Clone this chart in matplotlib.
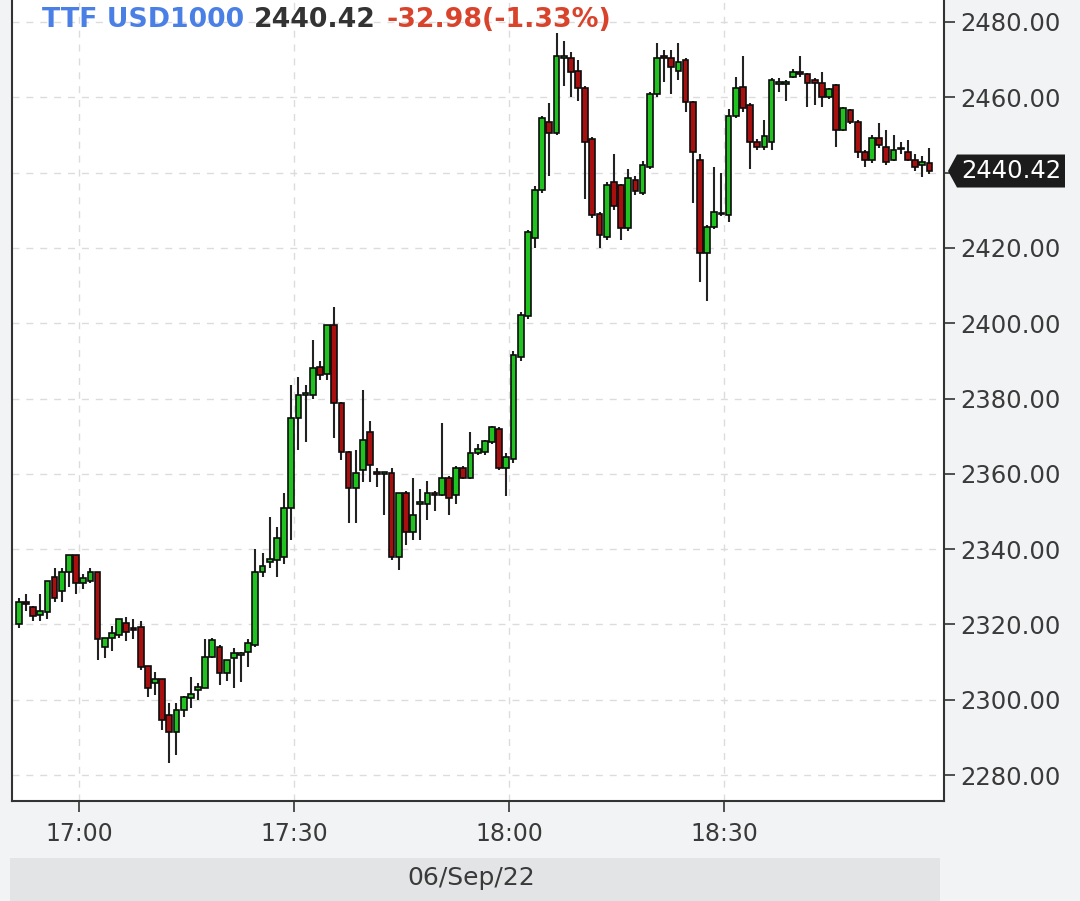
import matplotlib
matplotlib.use("Agg")
import matplotlib.pyplot as plt
import matplotlib.transforms as mtransforms
from matplotlib.patches import Polygon, Rectangle
import numpy as np
import pandas as pd

# ---------------- data ----------------
session_date = "2022-09-06"
start_time = "16:51"

opens = [2320, 2326, 2324.5, 2322.5, 2323.3, 2332.6, 2329, 2334, 2338.5, 2331,
         2331.5, 2334, 2314, 2316.4, 2317.3, 2320.5, 2319, 2319.3, 2309, 2304.5,
         2305.5, 2296, 2291.4, 2297.3, 2300.5, 2302.5, 2303, 2311.3, 2314, 2307,
         2311, 2312, 2312.7, 2314.5, 2334, 2336.5, 2337, 2338, 2351, 2374.8,
         2381, 2381, 2388.5, 2386.5, 2399.5, 2378.8, 2365.8, 2356.2, 2361, 2371,
         2360.5, 2360, 2360.2, 2338, 2355, 2344.5, 2352, 2352, 2355, 2354.5,
         2359, 2354.5, 2361.5, 2359, 2365.5, 2365.8, 2368.4, 2372, 2361.5, 2364,
         2391, 2402, 2422.6, 2435.4, 2453.4, 2450.5, 2470.5, 2470.5, 2467, 2462.5,
         2449, 2429, 2423, 2437.5, 2436.7, 2425.3, 2438, 2434.6, 2441.5, 2461,
         2471, 2470.4, 2467, 2470, 2458.8, 2443.3, 2418.6, 2425.5, 2429, 2428.7,
         2455, 2462.7, 2458, 2448, 2446.8, 2448, 2463.8, 2463.8, 2465.4, 2466.5,
         2466.2, 2464.6, 2463.8, 2460, 2463.3, 2451.3, 2456.6, 2453.4, 2445.5, 2443.4,
         2449.2, 2446.8, 2443.4, 2446.2, 2445.5, 2443.4, 2442, 2442.5]
highs = [2327, 2328, 2325, 2328, 2331.5, 2335, 2335, 2338.5, 2338.5, 2333.5,
         2335, 2334, 2316.4, 2319.5, 2321.5, 2322, 2321.5, 2321, 2309, 2307.4,
         2305.5, 2299, 2299, 2301, 2306, 2304.5, 2316, 2316.5, 2314.5, 2310.5,
         2313.8, 2312.8, 2316, 2340, 2339, 2348.5, 2346, 2355, 2383.6, 2385.7,
         2383.6, 2395.5, 2390, 2399.5, 2404.3, 2379, 2366, 2366.3, 2382.3, 2374,
         2361.5, 2360.5, 2361.5, 2355, 2355.5, 2359, 2356, 2358, 2355.5, 2373.5,
         2359.5, 2362, 2362, 2371, 2368, 2369, 2372.8, 2372.5, 2365.5, 2392.5,
         2403, 2424.8, 2436.5, 2455, 2458.5, 2477, 2475, 2472, 2470, 2463,
         2449.5, 2429.5, 2437.5, 2445, 2437, 2441, 2439, 2443, 2461.5, 2474.4,
         2472.5, 2472.5, 2474.4, 2470.4, 2459, 2445, 2426, 2441.5, 2440, 2457,
         2465.5, 2471, 2458.5, 2449, 2454, 2465, 2465, 2464.5, 2467.5, 2471,
         2466.5, 2465, 2466.6, 2462.5, 2463.5, 2457.5, 2457, 2454, 2446, 2450,
         2453.2, 2451.3, 2450, 2448, 2448.6, 2445, 2444.5, 2446.5]
lows = [2319, 2323.5, 2321, 2321, 2321.5, 2326, 2326, 2330, 2328, 2329.5,
        2331, 2310.5, 2311, 2313, 2316.5, 2315.5, 2316, 2308, 2300.7, 2301.2,
        2292, 2283.2, 2285.3, 2295.5, 2297.7, 2300, 2303, 2311, 2304, 2305,
        2303, 2304.6, 2308.7, 2314, 2332.6, 2335, 2332.5, 2336, 2342.4, 2366.3,
        2368.4, 2380, 2385, 2385, 2369.5, 2363.7, 2347, 2346.9, 2357.8, 2357.8,
        2356.5, 2349, 2337, 2334.5, 2341, 2342.4, 2342.4, 2347.7, 2350, 2354,
        2349, 2352, 2358.5, 2358.5, 2365, 2365, 2368, 2361, 2354, 2363,
        2390, 2401, 2420, 2434.5, 2439, 2450, 2463, 2460, 2459, 2433,
        2428, 2420, 2422, 2430, 2422, 2424.5, 2434, 2434, 2441, 2460,
        2464, 2461, 2464.6, 2456, 2432, 2411, 2406, 2425, 2428.5, 2427,
        2454.5, 2456, 2441, 2446, 2446, 2446, 2461.5, 2459, 2465, 2465.5,
        2457.4, 2458, 2457.4, 2459.5, 2446.8, 2451, 2453, 2444, 2441.5, 2442.5,
        2446.5, 2442, 2443, 2445, 2443, 2440.5, 2438.8, 2439.5]
closes = [2326, 2325.5, 2322.3, 2323.5, 2331.5, 2327, 2334, 2338.5, 2331, 2332.4,
          2334, 2316, 2316.4, 2317.7, 2321.5, 2317.9, 2318.5, 2308.7, 2303, 2305.5,
          2294.6, 2291.4, 2297.3, 2300.7, 2301.5, 2303.5, 2311.3, 2315.9, 2307, 2310.5,
          2312.5, 2312.5, 2315, 2334, 2335.5, 2337.5, 2343, 2351, 2374.8, 2381,
          2381.3, 2388, 2386.3, 2399.5, 2378.8, 2365.8, 2356.2, 2360.2, 2369, 2362.3,
          2360, 2360.3, 2338, 2355, 2344.5, 2349, 2352.5, 2355, 2354.5, 2359,
          2353.6, 2361.5, 2359, 2365.5, 2366.5, 2368.7, 2372.4, 2361.5, 2364.5, 2391.6,
          2402.2, 2424.2, 2435.4, 2454.5, 2450.5, 2471, 2470.8, 2466.7, 2462.5, 2448,
          2428.7, 2423.4, 2436.7, 2431, 2425.3, 2438.6, 2435, 2442, 2461, 2470.4,
          2470.5, 2468, 2469.4, 2458.8, 2445.5, 2418.6, 2425.5, 2429.5, 2429.3, 2455,
          2462.5, 2457.2, 2448, 2446.8, 2449.7, 2464.6, 2464, 2464, 2466.7, 2466.3,
          2463.8, 2463.8, 2460, 2462.2, 2451.3, 2457.2, 2453.4, 2445.5, 2443.4, 2449.2,
          2447.3, 2442.8, 2446, 2446.6, 2443.4, 2441.5, 2442.8, 2440.42]

y_ticks = [2280, 2300, 2320, 2340, 2360, 2380, 2400, 2420, 2440, 2460, 2480]
x_tick_labels = ["17:00", "17:30", "18:00", "18:30"]
title_name = "TTF USD1000"
title_last = "2440.42"
title_change = "-32.98(-1.33%)"
last_label = "2440.42"
date_label = "06/Sep/22"

# ---------------- layout / style ----------------
W, H, DPI = 1080, 901, 100
fig = plt.figure(figsize=(W / DPI, H / DPI), dpi=DPI)
fig.patch.set_facecolor("#f2f3f5")

ax = fig.add_axes([12 / W, 1 - 801 / H, (944 - 12) / W, 801 / H])
ax.set_facecolor("white")

ref_time = pd.Timestamp(f"{session_date} 17:00")
times = pd.date_range(f"{session_date} {start_time}", periods=len(opens), freq="min")
xm = np.asarray((times - ref_time).total_seconds() / 60.0) + 0.6

o = np.array(opens); h = np.array(highs); l = np.array(lows); c = np.array(closes)
up = c >= o
green = "#1fc21f"
red = "#a81010"
colors = np.where(up, green, red)
flat = np.abs(c - o) < 0.5
body_h = np.where(flat, 0.5, np.abs(c - o))
body_bottom = np.where(flat, (o + c) / 2 - 0.25, np.minimum(o, c))

ax.vlines(xm, l, h, color="#222222", linewidth=1.5, zorder=2)
ax.bar(xm, body_h, bottom=body_bottom, width=0.8, color=colors,
       edgecolor="#0d0d0d", linewidth=1.2, zorder=3)

ax.set_ylim(2273.1, 2485.84)
ax.set_xlim(-9.34, 120.64)

ax.set_yticks(y_ticks)
# the 2440 level label sits under the last-price marker, as in the source chart
last_level = round(closes[-1] / 20) * 20
ax.set_yticklabels(["" if v == last_level else f"{v:.2f}" for v in y_ticks])
ax.yaxis.tick_right()
xt = [(pd.Timestamp(f"{session_date} {s}") - ref_time).total_seconds() / 60.0 for s in x_tick_labels]
ax.set_xticks(xt)
ax.set_xticklabels(x_tick_labels)

ax.tick_params(axis="y", direction="out", length=8, width=1.2, colors="#333333",
               labelsize=17.5, pad=4)
ax.tick_params(axis="x", direction="out", length=8, width=1.2, colors="#333333",
               labelsize=17, pad=7)
for lab in ax.get_xticklabels() + ax.get_yticklabels():
    lab.set_color("#3a3a3a")

ax.grid(True, color="#dcdcdc", linestyle=(0, (5, 5)), linewidth=1.0, zorder=0)
ax.set_axisbelow(True)

for side in ["left", "bottom", "right"]:
    ax.spines[side].set_color("#333333")
    ax.spines[side].set_linewidth(1.5)
ax.spines["top"].set_visible(False)

# date bar
fig.patches.append(Rectangle((10 / W, 0), (940 - 10) / W, 43 / H,
                             transform=fig.transFigure, facecolor="#e3e4e6",
                             edgecolor="none", zorder=0))
fig.text(471 / W, 1 - 878 / H, date_label, ha="center", va="center",
         fontsize=18, color="#3a3a3a")

# last price marker on the right axis
blend = mtransforms.blended_transform_factory(ax.transAxes, ax.transData)
anchor = mtransforms.ScaledTranslation(1.0, closes[-1], blend)
pent = Polygon([(4, 0), (13, 16.5), (121, 16.5), (121, -16.5), (13, -16.5)],
               closed=True, transform=mtransforms.Affine2D() + anchor,
               facecolor="#1c1c1c", edgecolor="none", clip_on=False, zorder=10)
ax.add_artist(pent)
ax.annotate(last_label, xy=(1.0, closes[-1]), xycoords=blend,
            xytext=(67, 0), textcoords="offset pixels", ha="center", va="center",
            fontsize=17.5, color="white", zorder=11, annotation_clip=False)

# title line
renderer = fig.canvas.get_renderer()
x0 = 42 / W
base_y = 1 - 27 / H
pieces = [(title_name, "#4a7fe6"), (title_last, "#333333"), (title_change, "#d9432c")]
for txt, col in pieces:
    t = fig.text(x0, base_y, txt, ha="left", va="baseline", fontsize=19.3,
                 fontweight="bold", color=col)
    bb = t.get_window_extent(renderer)
    x0 = (bb.x1 + 10) / W

fig.savefig("out.png", dpi=DPI, facecolor=fig.get_facecolor())
